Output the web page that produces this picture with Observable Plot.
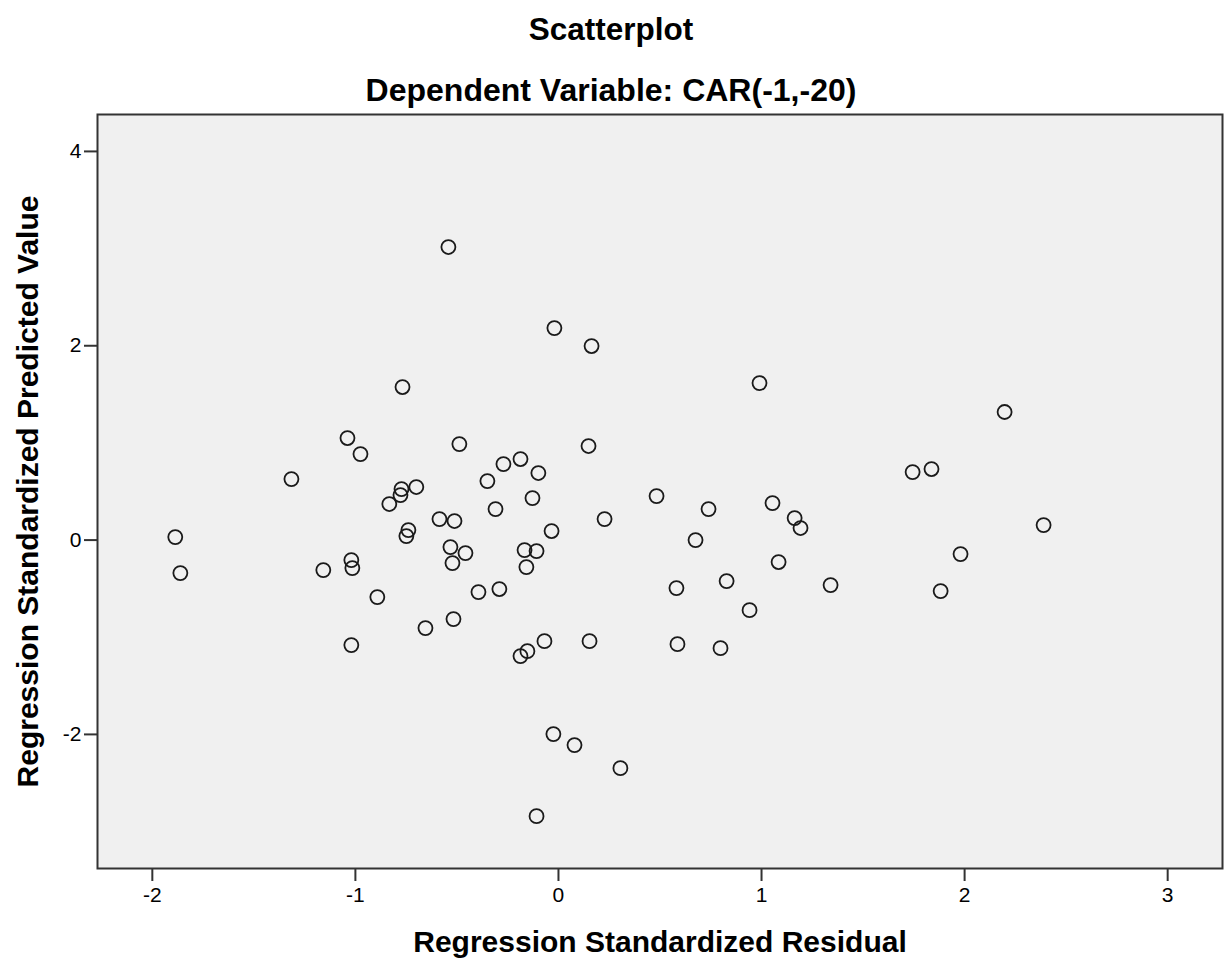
<!DOCTYPE html>
<html><head><meta charset="utf-8">
<script src="https://cdn.jsdelivr.net/npm/d3@7"></script>
<script src="https://cdn.jsdelivr.net/npm/@observablehq/plot@0.6"></script>
<style>
body{margin:0;background:#fff;font-family:"Liberation Sans",Arial,sans-serif;}
#wrap{width:1232px;}
#header{position:relative;height:100px;}
.t{position:absolute;left:0;width:1222px;text-align:center;font-weight:bold;color:#000;line-height:1;white-space:nowrap;}
</style></head><body>
<div id="wrap">
<div id="header">
<div class="t" id="title" style="top:14px;font-size:31.5px">Scatterplot</div>
<div class="t" id="sub" style="top:74px;font-size:32px">Dependent Variable: CAR(-1,-20)</div>
</div>
<div id="chart"></div>
</div>
<script>
const titleText = "Scatterplot";
const subtitleText = "Dependent Variable: CAR(-1,-20)";
const xLabel = "Regression Standardized Residual";
const yLabel = "Regression Standardized Predicted Value";
const xTicks = [-2, -1, 0, 1, 2, 3];
const yTicks = [-2, 0, 2, 4];

const residual = [
 -0.542, -0.020, 0.163, -0.768, 0.990, 2.197, -1.039, -0.488, 0.148, -0.975,
 -0.187, -0.271, -0.099, -1.315, -0.350, 1.744, 1.837, -0.700, -0.773, -0.778,
 -0.833, 0.483, -0.128, 1.054, -0.310, 0.739, -0.586, -0.512, 0.227, 1.163,
 1.192, 2.389, -0.739, -0.749, -0.034, -1.887, 0.675, -0.532, -0.458, -0.167,
 -0.108, -1.020, -1.015, 1.980, 1.084, -0.522, -0.158, -1.862, -1.158, -0.394,
 -0.291, 0.581, 0.828, 1.340, 1.882, -0.892, 0.941, -0.517, -0.655, -0.069,
 0.153, -1.020, 0.586, 0.798, -0.153, -0.187, -0.025, 0.079, 0.305, -0.108
];
const predicted = [
 3.016, 2.182, 1.997, 1.575, 1.616, 1.318, 1.050, 0.988, 0.968, 0.885,
 0.834, 0.782, 0.690, 0.628, 0.607, 0.700, 0.731, 0.546, 0.525, 0.463,
 0.371, 0.453, 0.432, 0.381, 0.319, 0.319, 0.216, 0.196, 0.216, 0.226,
 0.124, 0.154, 0.103, 0.041, 0.093, 0.031, 0.000, -0.072, -0.134, -0.103,
 -0.113, -0.206, -0.288, -0.144, -0.226, -0.237, -0.278, -0.340, -0.309, -0.535,
 -0.504, -0.494, -0.422, -0.463, -0.525, -0.587, -0.721, -0.813, -0.906, -1.040,
 -1.040, -1.081, -1.071, -1.112, -1.143, -1.194, -1.997, -2.110, -2.347, -2.841
];

document.getElementById("title").textContent = titleText;
document.getElementById("sub").textContent = subtitleText;

const data = residual.map((x, i) => ({x, y: predicted[i]}));

const chart = Plot.plot({
  width: 1232,
  height: 863,
  marginTop: 14,
  marginLeft: 97,
  marginRight: 10,
  marginBottom: 95,
  style: {fontFamily: "'Liberation Sans', Arial, sans-serif", background: "#fff", color: "#000", overflow: "visible"},
  x: {domain: [-2.27, 3.27]},
  y: {domain: [-3.38, 4.38]},
  marks: [
    Plot.frame({fill: "#f0f0f0", stroke: null}),
    Plot.axisX({ticks: xTicks, tickSize: 13, tickPadding: 6, fontSize: 21, strokeWidth: 2, stroke: "#333", label: null, tickFormat: d => String(d)}),
    Plot.axisY({ticks: yTicks, tickSize: 13, tickPadding: 3, fontSize: 21, strokeWidth: 2, stroke: "#333", label: null, tickFormat: d => String(d)}),
    Plot.dot(data, {x: "x", y: "y", r: 7, stroke: "#1a1a1a", strokeWidth: 1.8, fill: "none"}),
    Plot.frame({stroke: "#333", strokeWidth: 2}),
    Plot.text([xLabel], {text: d => d, frameAnchor: "bottom", dy: 74, textAnchor: "middle", lineAnchor: "middle", fontSize: 30, fontWeight: "bold", fill: "#000"}),
    Plot.text([yLabel], {text: d => d, frameAnchor: "left", dx: -69, rotate: -90, textAnchor: "middle", lineAnchor: "middle", fontSize: 30, fontWeight: "bold", fill: "#000"})
  ]
});
document.getElementById("chart").appendChild(chart);
</script>
</body></html>
